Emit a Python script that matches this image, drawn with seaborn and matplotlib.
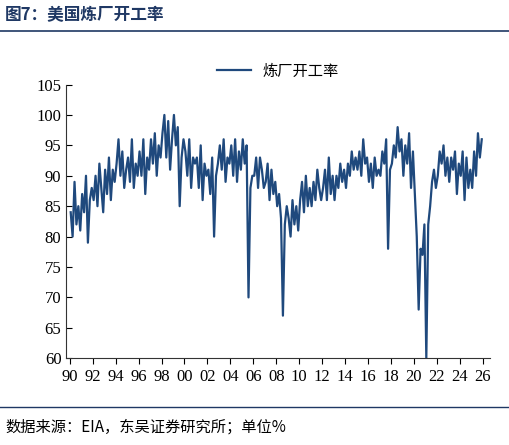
import numpy as np
import pandas as pd
import matplotlib
matplotlib.use("Agg")
import matplotlib.pyplot as plt
import seaborn as sns

years = list(range(1990, 2026))
values = [
    [84, 80, 89, 82, 85, 81],
    [87, 84, 90, 79, 86, 88],
    [86, 90, 85, 92, 88, 84],
    [91, 87, 93, 86, 91, 89],
    [92, 96, 90, 94, 88, 91],
    [93, 89, 96, 88, 92, 90],
    [94, 90, 96, 87, 93, 91],
    [96, 92, 97, 90, 95, 93],
    [97, 100, 93, 99, 91, 96],
    [100, 95, 98, 85, 93, 96],
    [94, 90, 96, 88, 93, 92],
    [93, 88, 95, 86, 92, 90],
    [91, 87, 93, 80, 90, 92],
    [95, 91, 96, 89, 93, 92],
    [95, 90, 96, 89, 94, 91],
    [96, 92, 95, 70, 88, 90],
    [90, 93, 88, 93, 91, 88],
    [89, 92, 86, 91, 87, 89],
    [85, 87, 83, 67, 82, 85],
    [83, 80, 86, 82, 85, 81],
    [86, 89, 84, 90, 85, 88],
    [85, 89, 86, 91, 88, 86],
    [88, 91, 86, 93, 87, 90],
    [86, 90, 88, 92, 89, 91],
    [88, 92, 90, 94, 91, 93],
    [91, 94, 90, 96, 92, 93],
    [89, 92, 88, 93, 90, 91],
    [90, 94, 92, 96, 78, 91],
    [92, 95, 93, 98, 94, 96],
    [90, 95, 92, 97, 88, 94],
    [87, 80, 68, 78, 77, 82],
    [60, 82, 85, 89, 91, 88],
    [90, 94, 92, 95, 90, 93],
    [89, 93, 91, 94, 87, 92],
    [90, 94, 86, 93, 88, 91],
    [88, 94, 90, 97, 93, 96],
]

t, v = [], []
for y, row in zip(years, values):
    for i, val in enumerate(row):
        t.append(y + (i + 0.5) / 6)
        v.append(val)
df = pd.DataFrame({"t": t, "炼厂开工率": v})

plt.rcParams["font.family"] = ["Noto Sans CJK SC", "DejaVu Sans"]
fig = plt.figure(figsize=(5.10, 4.45), dpi=100)
ax = fig.add_axes([0.13, 0.195, 0.83, 0.615])
color = "#1F497D"
sns.lineplot(data=df, x="t", y="炼厂开工率", ax=ax, color=color, lw=1.6, label="炼厂开工率")
ax.set_xlim(1989.7, 2026.6)
ax.set_ylim(60, 105)
ax.set_yticks(range(60, 106, 5))
xt = list(range(1990, 2027, 2))
ax.set_xticks(xt)
ax.set_xticklabels([f"{x % 100:02d}" for x in xt])
ax.set_xlabel("")
ax.set_ylabel("")
for s in ["top", "right"]:
    ax.spines[s].set_visible(False)
for s in ["left", "bottom"]:
    ax.spines[s].set_color("#333333")
ax.tick_params(direction="in", length=4, labelsize=12, colors="#000000")
ax.tick_params(axis="x", direction="out")
for lab in ax.get_xticklabels() + ax.get_yticklabels():
    lab.set_family(["Liberation Serif", "DejaVu Serif"])
ax.legend(loc="upper center", bbox_to_anchor=(0.5, 1.13), frameon=False, fontsize=11, handlelength=2.2)

fig.text(0.01, 0.965, "图7：美国炼厂开工率", fontsize=12, fontweight="bold", color="#1F3864", va="center")
fig.add_artist(plt.Line2D([0.0, 1.0], [0.93, 0.93], color="#1F3864", lw=1.2))
fig.add_artist(plt.Line2D([0.0, 1.0], [0.085, 0.085], color="#1F3864", lw=1.0))
fig.text(0.01, 0.04, "数据来源：EIA，东吴证券研究所；单位%", fontsize=11, va="center")
fig.savefig("out.png", dpi=100)
